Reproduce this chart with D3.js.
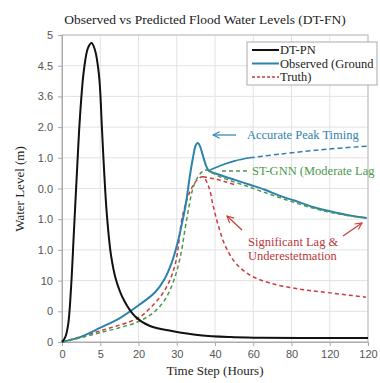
<!DOCTYPE html>
<html>
<head>
<meta charset="utf-8">
<script src="https://cdn.jsdelivr.net/npm/d3@7"></script>
<style>
  body { margin: 0; background: #fff; }
  svg { display: block; }
</style>
</head>
<body>
<svg id="svg" width="380" height="383"></svg>
<script>
// tick labels, as printed on the chart
var xTickLabels = ["0", "5", "20", "30", "40", "60", "80", "120", "120"];
var yTickLabels = ["0", "0", "10", "1.0", "1.0", "0.0", "1.0", "2.0", "3.6", "4.5", "5"];

// series, [hour, level]
var dtpn = [[0,0],[1.2,0.07],[2.4,0.28],[3.5,0.85],[4.7,1.82],[5.9,2.8],[7.1,3.7],[8.6,4.43],[10.2,4.79],[11.6,4.87],
  [12.9,4.76],[14.5,4.35],[15.7,3.45],[16.5,2.8],[17.6,2.07],[19.2,1.42],[21.2,1.01],[24.3,0.68],[28.6,0.42],
  [34.5,0.26],[43.1,0.18],[54.1,0.11],[65.9,0.08],[77.6,0.07],[93.3,0.065],[120,0.065]];

var observed = [[0,0],[7.1,0.08],[14.9,0.23],[22.7,0.39],[29.8,0.59],[36.5,0.81],[40.4,1.04],[43.1,1.3],[45.1,1.58],
  [47.1,1.94],[48.6,2.26],[50.2,2.72],[51.4,3.01],[52.5,3.21],[53.3,3.24],[54.1,3.19],[55.3,3.03],[56.5,2.87],
  [57.6,2.79],[62,2.72],[67.8,2.64],[73.7,2.56],[79.6,2.48],[85.5,2.38],[91.4,2.3],[98.4,2.2],[105.1,2.13],
  [112.9,2.06],[119.5,2.02]];

var observedUpper = [[57.6,2.79],[62,2.87],[67.8,2.95],[73.7,3.0]];
var observedUpperDashed = [[73.7,3.0],[85.5,3.06],[101.2,3.13],[119.6,3.19]];

var stgnn = [[0,0],[14.9,0.15],[29.8,0.33],[36.5,0.5],[40.8,0.72],[43.9,1.01],[46.3,1.37],[49,2.02],[51.4,2.51],
  [53.3,2.69],[54.9,2.77],[56.5,2.8],[62,2.69],[73.7,2.52],[85.5,2.35],[98.4,2.18],[109,2.08],[119.2,2.02]];

var truth = [[0,0],[14.9,0.18],[29.8,0.39],[34.5,0.55],[40.4,0.85],[44.3,1.25],[47.5,2.1],[51,2.52],[53.3,2.65],
  [55.3,2.69],[57.6,2.52],[59.2,2.23],[61.2,1.91],[63.9,1.58],[67.8,1.3],[73.7,1.09],[81.6,0.96],[93.3,0.86],
  [105.1,0.8],[119.2,0.73]];
var truthTail = [[55.3,2.69],[59.6,2.66],[64,2.61],[68,2.56]];

var svg = d3.select("#svg");
var margin = {top: 35, right: 12, bottom: 41, left: 62},
    width = 380 - margin.left - margin.right,
    height = 383 - margin.top - margin.bottom;

var serif = "'Liberation Serif', 'DejaVu Serif', serif";
var sans = "'Liberation Sans', Arial, sans-serif";

var x = d3.scaleLinear().domain([0, 120]).range([0, width]);
var y = d3.scaleLinear().domain([0, 5]).range([height, 0]);

var xTicks = d3.range(0, 121, 15);
var yTicks = d3.range(0, 5.01, 0.5);

var g = svg.append("g").attr("transform", "translate(" + margin.left + "," + margin.top + ")");

// grid
g.append("g").selectAll("line").data(xTicks).enter().append("line")
  .attr("x1", d => x(d)).attr("x2", d => x(d)).attr("y1", 0).attr("y2", height)
  .attr("stroke", "#e2e2e2");
g.append("g").selectAll("line").data(yTicks).enter().append("line")
  .attr("x1", 0).attr("x2", width).attr("y1", d => y(d)).attr("y2", d => y(d))
  .attr("stroke", "#e2e2e2");

// frame
g.append("rect").attr("width", width).attr("height", height)
  .attr("fill", "none").attr("stroke", "#bbb");

// axes
var xAxis = g.append("g").attr("transform", "translate(0," + height + ")")
  .call(d3.axisBottom(x).tickValues(xTicks).tickSize(4).tickPadding(4)
    .tickFormat((d, i) => xTickLabels[i]));
var yAxis = g.append("g")
  .call(d3.axisLeft(y).tickValues(yTicks).tickSize(4).tickPadding(5)
    .tickFormat((d, i) => yTickLabels[i]));
[xAxis, yAxis].forEach(function(a) {
  a.select(".domain").attr("stroke", "#aaa");
  a.selectAll(".tick line").attr("stroke", "#aaa");
  a.selectAll("text").attr("fill", "#555").style("font-family", sans).style("font-size", "11px");
});

var line = d3.line().x(d => x(d[0])).y(d => y(d[1])).curve(d3.curveMonotoneX);
var lineC = d3.line().x(d => x(d[0])).y(d => y(d[1])).curve(d3.curveCatmullRom);

function drawSeries(data, gen, color, w, dash) {
  g.append("path").datum(data).attr("d", gen)
    .attr("fill", "none").attr("stroke", color).attr("stroke-width", w)
    .attr("stroke-dasharray", dash || null).attr("stroke-linecap", "butt");
}

var cBlue = "#2c82ad", cGreen = "#4b9a4b", cRed = "#cc3a3a", cText = "#b8383c";

drawSeries(truth, lineC, cRed, 1.5, "4,3");
drawSeries(truthTail, lineC, cRed, 1.5, "4,3");
drawSeries(observedUpper, lineC, cBlue, 1.6);
drawSeries(observedUpperDashed, lineC, cBlue, 1.5, "5,3");
drawSeries(observed, lineC, cBlue, 2);
drawSeries(stgnn, lineC, cGreen, 1.5, "4,3");
drawSeries(dtpn, lineC, "#111", 2);

// annotations
svg.append("defs").selectAll("marker").data([["arrBlue", cBlue], ["arrRed", cRed]]).enter()
  .append("marker").attr("id", d => d[0]).attr("viewBox", "0 0 10 10")
  .attr("refX", 9).attr("refY", 5).attr("markerWidth", 7).attr("markerHeight", 7)
  .attr("orient", "auto-start-reverse")
  .append("path").attr("d", "M1,1 L9,5 L1,9").attr("fill", "none").attr("stroke", d => d[1]).attr("stroke-width", 1.3);

function arrow(x1, y1, x2, y2, color, id) {
  svg.append("line").attr("x1", x1).attr("y1", y1).attr("x2", x2).attr("y2", y2)
    .attr("stroke", color).attr("stroke-width", 1.2).attr("marker-end", "url(#" + id + ")");
}
function label(tx, ty, str, color) {
  svg.append("text").attr("x", tx).attr("y", ty).text(str)
    .attr("fill", color).style("font-family", serif).style("font-size", "12.5px");
}

arrow(236, 135, 213, 135, cBlue, "arrBlue");
label(247, 139, "Accurate Peak Timing", cBlue);

svg.append("line").attr("x1", 222).attr("x2", 249).attr("y1", 171).attr("y2", 171)
  .attr("stroke", cGreen).attr("stroke-width", 1.5).attr("stroke-dasharray", "4,3");
label(252, 175, "ST-GNN (Moderate Lag", cGreen);

arrow(242, 230, 227, 216, cRed, "arrRed");
arrow(343, 236, 362, 223, cRed, "arrRed");
label(248, 246, "Significant Lag &", cText);
label(248, 260, "Underestetmation", cText);

// legend
var lg = svg.append("g");
lg.append("rect").attr("x", 247).attr("y", 42).attr("width", 130).attr("height", 43)
  .attr("fill", "#fff").attr("stroke", "#aaa");
var legendItems = [["DT-PN", "#111", null, 2], ["Observed (Ground", cBlue, null, 2], ["Truth)", cRed, "3,2", 1.3]];
legendItems.forEach(function(d, i) {
  var ly = 50 + i * 13.5;
  lg.append("line").attr("x1", 252).attr("x2", 279).attr("y1", ly).attr("y2", ly)
    .attr("stroke", d[1]).attr("stroke-width", d[3]).attr("stroke-dasharray", d[2]);
  lg.append("text").attr("x", 280).attr("y", ly + 4).text(d[0])
    .attr("fill", "#222").style("font-family", serif).style("font-size", "12.5px");
});

// titles
svg.append("text").attr("x", 205).attr("y", 24).attr("text-anchor", "middle")
  .text("Observed vs Predicted Flood Water Levels (DT-FN)")
  .attr("fill", "#222").style("font-family", serif).style("font-size", "13.5px");
svg.append("text").attr("x", 215).attr("y", 375).attr("text-anchor", "middle")
  .text("Time Step (Hours)")
  .attr("fill", "#222").style("font-family", serif).style("font-size", "13px");
svg.append("text").attr("transform", "translate(24,189) rotate(-90)").attr("text-anchor", "middle")
  .text("Water Level (m)")
  .attr("fill", "#222").style("font-family", serif).style("font-size", "13px");
</script>
</body>
</html>
